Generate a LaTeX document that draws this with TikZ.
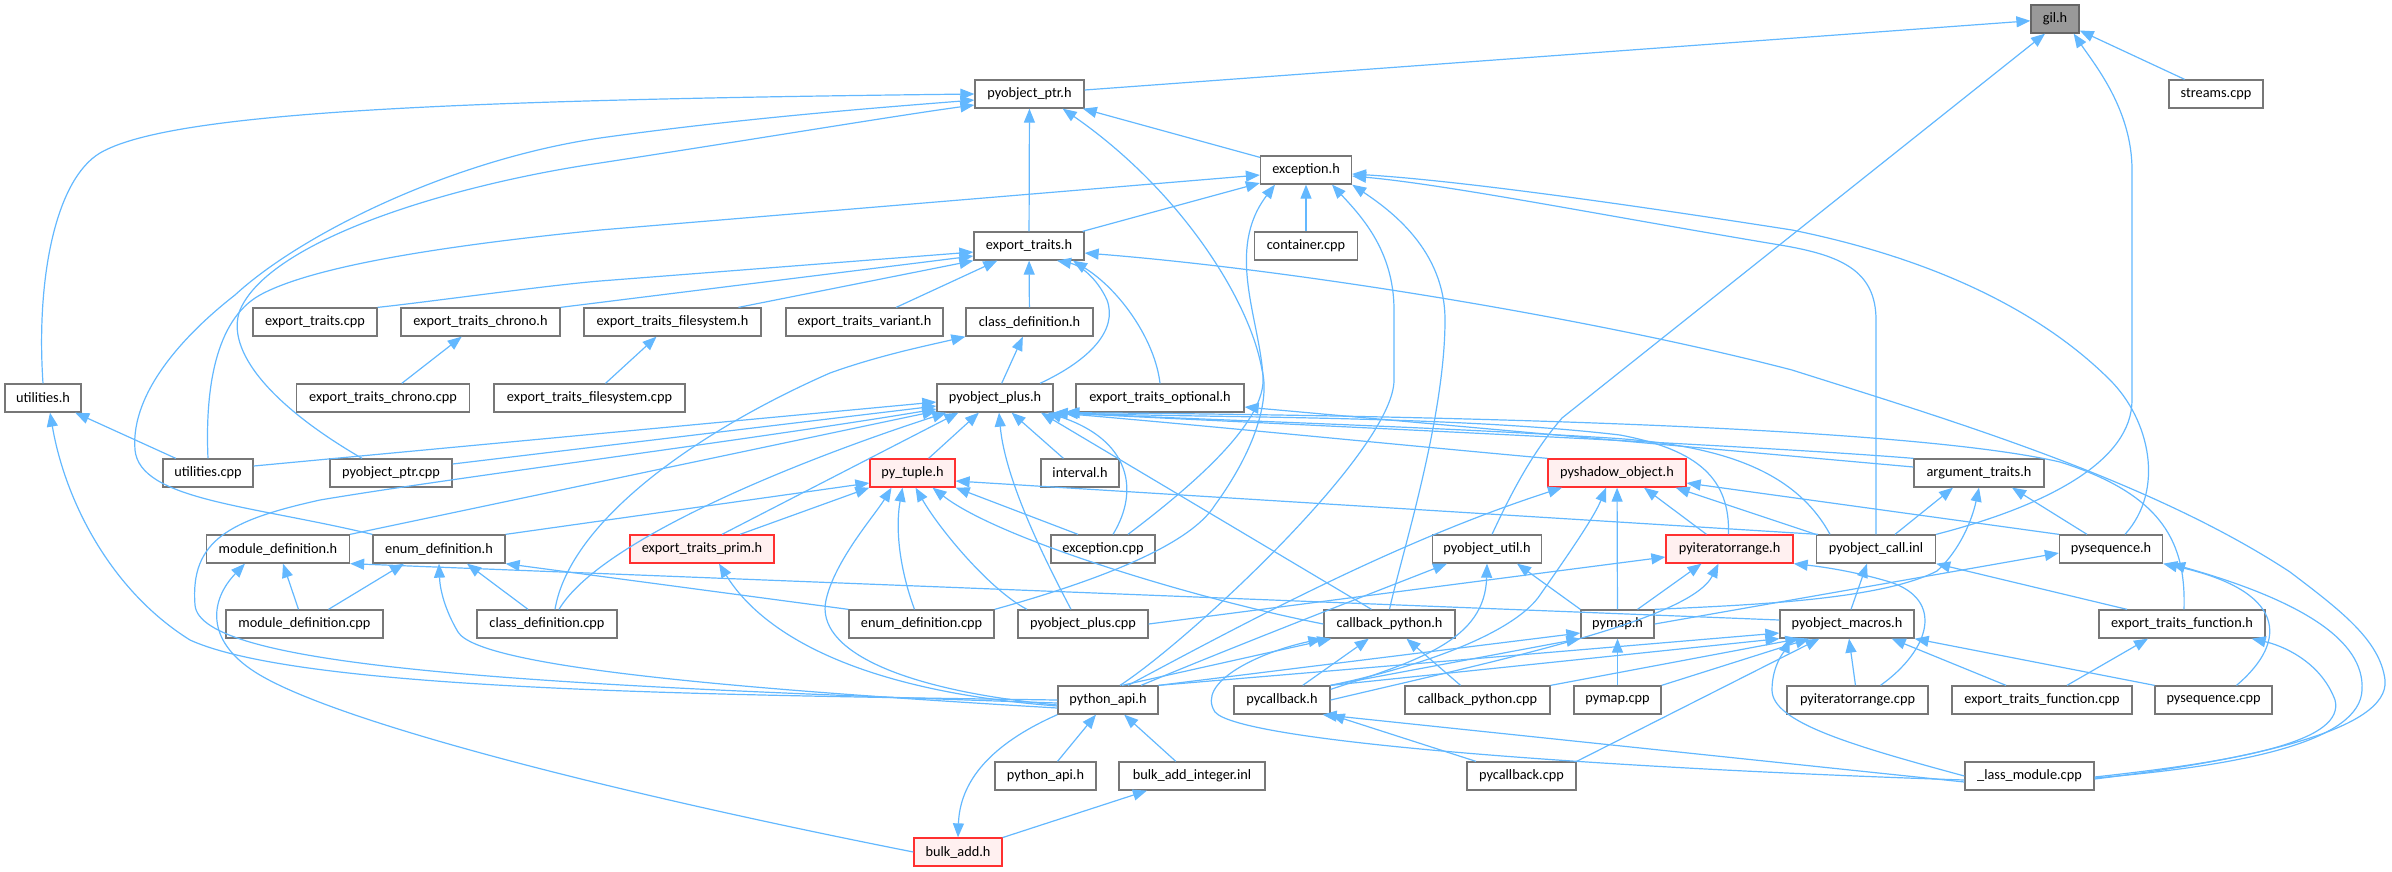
\documentclass[tikz,border=0pt]{standalone}
\usepackage{fontspec}
\setmainfont{Carlito}
\usetikzlibrary{arrows.meta}
\definecolor{edgeblue}{HTML}{63B8FF}
\definecolor{ndgray}{HTML}{777777}
\definecolor{ndred}{HTML}{FF3030}
\definecolor{ndpink}{HTML}{FFF0F0}
\definecolor{gilfill}{HTML}{999999}
\definecolor{gildraw}{HTML}{666666}
\begin{document}
\begin{tikzpicture}[x=1pt,y=-1pt,
  nd/.style={draw=ndgray, fill=white, line width=1.3pt, minimum height=28pt, inner sep=0pt, font=\fontsize{14.3}{16}\selectfont},
  rednd/.style={nd, draw=ndred, fill=ndpink},
  edge/.style={draw=edgeblue, line width=1.2pt, -{Triangle[length=14pt,width=11pt]}}]
\useasboundingbox (0,0) rectangle (2392,871);
% nodes
\node[nd, fill=gilfill, draw=gildraw, minimum width=48pt] (gil) at (2055,19) {gil.h};
\node[nd, minimum width=109pt] (ptr) at (1029.5,94) {pyobject\_ptr.h};
\node[nd, minimum width=94pt] (streams) at (2216,94) {streams.cpp};
\node[nd, minimum width=91pt] (exc) at (1306,170) {exception.h};
\node[nd, minimum width=110pt] (et) at (1029,246) {export\_traits.h};
\node[nd, minimum width=103pt] (container) at (1306,246) {container.cpp};
\node[nd, minimum width=124pt] (etcpp) at (315,322) {export\_traits.cpp};
\node[nd, minimum width=159pt] (etchrono) at (480.5,322) {export\_traits\_chrono.h};
\node[nd, minimum width=177pt] (etfs) at (672.5,322) {export\_traits\_filesystem.h};
\node[nd, minimum width=157pt] (etvar) at (864.5,322) {export\_traits\_variant.h};
\node[nd, minimum width=127pt] (classdef) at (1029.5,322) {class\_definition.h};
\node[nd, minimum width=76pt] (utilh) at (43,398) {utilities.h};
\node[nd, minimum width=173pt] (etchronocpp) at (383,398) {export\_traits\_chrono.cpp};
\node[nd, minimum width=191pt] (etfscpp) at (589.5,398) {export\_traits\_filesystem.cpp};
\node[nd, minimum width=116pt] (plus) at (995,398) {pyobject\_plus.h};
\node[nd, minimum width=168pt] (etopt) at (1160,398) {export\_traits\_optional.h};
\node[nd, minimum width=90pt] (utilcpp) at (208,473) {utilities.cpp};
\node[nd, minimum width=122pt] (ptrcpp) at (391,473) {pyobject\_ptr.cpp};
\node[rednd, minimum width=85pt] (tuple) at (912.5,473) {py\_tuple.h};
\node[nd, minimum width=78pt] (interval) at (1080,473) {interval.h};
\node[rednd, minimum width=138pt] (shadow) at (1617,473) {pyshadow\_object.h};
\node[nd, minimum width=130pt] (argtr) at (1979,473) {argument\_traits.h};
\node[nd, minimum width=143pt] (moddefh) at (278,549) {module\_definition.h};
\node[nd, minimum width=132pt] (enumdefh) at (439,549) {enum\_definition.h};
\node[rednd, minimum width=144pt] (prim) at (702,549) {export\_traits\_prim.h};
\node[nd, minimum width=104pt] (exccpp) at (1103,549) {exception.cpp};
\node[nd, minimum width=109pt] (util) at (1487,549) {pyobject\_util.h};
\node[rednd, minimum width=127pt] (iterh) at (1729.5,549) {pyiteratorrange.h};
\node[nd, minimum width=119pt] (call) at (1876,549) {pyobject\_call.inl};
\node[nd, minimum width=103pt] (seqh) at (2111,549) {pysequence.h};
\node[nd, minimum width=157pt] (moddefcpp) at (304.5,624) {module\_definition.cpp};
\node[nd, minimum width=140pt] (classdefcpp) at (547,624) {class\_definition.cpp};
\node[nd, minimum width=145pt] (enumdefcpp) at (921.5,624) {enum\_definition.cpp};
\node[nd, minimum width=130pt] (pluscpp) at (1083,624) {pyobject\_plus.cpp};
\node[nd, minimum width=131pt] (cbpyh) at (1389.5,624) {callback\_python.h};
\node[nd, minimum width=73pt] (pymaph) at (1617.5,624) {pymap.h};
\node[nd, minimum width=134pt] (macros) at (1847,624) {pyobject\_macros.h};
\node[nd, minimum width=166pt] (etfunc) at (2182,624) {export\_traits\_function.h};
\node[nd, minimum width=100pt] (api) at (1108,700) {python\_api.h};
\node[nd, minimum width=96pt] (pycbh) at (1282,700) {pycallback.h};
\node[nd, minimum width=145pt] (cbpycpp) at (1477.5,700) {callback\_python.cpp};
\node[nd, minimum width=87pt] (pymapcpp) at (1617.5,700) {pymap.cpp};
\node[nd, minimum width=141pt] (itercpp) at (1857.5,700) {pyiteratorrange.cpp};
\node[nd, minimum width=180pt] (etfunccpp) at (2042,700) {export\_traits\_function.cpp};
\node[nd, minimum width=117pt] (seqcpp) at (2213.5,700) {pysequence.cpp};
\node[nd, minimum width=101pt] (api2) at (1045.5,776) {python\_api.h};
\node[nd, minimum width=146pt] (bulkint) at (1192,776) {bulk\_add\_integer.inl};
\node[nd, minimum width=109pt] (pycbcpp) at (1521.5,776) {pycallback.cpp};
\node[nd, minimum width=129pt] (lass) at (2029.5,776) {\_lass\_module.cpp};
\node[rednd, minimum width=88pt] (bulk) at (958,852) {bulk\_add.h};
% edges to gil.h
\draw[edge] (ptr) -- (gil);
\draw[edge] ([xshift=5pt]util.north) .. controls (1508,500) and (1530,455) .. (1562,418) -- ([xshift=-10pt]gil.south);
\draw[edge] (call.north east) .. controls (2050,505) and (2132,460) .. (2132,400) -- (2132,170) .. controls (2132,110) and (2095,65) .. ([xshift=-6pt]gil.south east);
\draw[edge] (streams) -- (gil);
% edges to pyobject_ptr.h
\draw[edge] (et) -- (ptr);
\draw[edge] (utilh.north) .. controls (36,280) and (55,180) .. (100,153) .. controls (170,112) and (450,100) .. (ptr.west);
\draw[edge] (enumdefh.north west) .. controls (250,505) and (140,500) .. (135,450) .. controls (130,390) and (190,330) .. (235,295) .. controls (300,235) and (450,160) .. (600,138) .. controls (750,117) and (900,106) .. ([yshift=-6pt]ptr.west);
\draw[edge] ([xshift=-29pt]ptrcpp.north) .. controls (270,405) and (225,350) .. (240,310) .. controls (270,240) and (450,185) .. (600,163) .. controls (750,140) and (900,115) .. ([yshift=-11pt]ptr.west);
\draw[edge] (exc) -- (ptr);
\draw[edge] (enumdefcpp.north east) .. controls (1100,580) and (1190,545) .. (1215,505) .. controls (1255,450) and (1270,400) .. (1262,370) .. controls (1250,300) and (1180,190) .. ([xshift=-22pt]ptr.south east);
% edges to exception.h
\draw[edge] (utilcpp.north) .. controls (205,390) and (215,320) .. (260,295) .. controls (320,262) and (480,242) .. (600,230) -- ([yshift=-5pt]exc.west);
\draw[edge] (et) -- ([yshift=-13pt]exc.west);
\draw[edge] ([xshift=25pt]exccpp.north) .. controls (1200,480) and (1266,420) .. (1263,377) .. controls (1260,320) and (1225,250) .. ([xshift=-31pt]exc.south);
\draw[edge] (container) -- (exc);
\draw[edge] ([xshift=12pt]api.north) .. controls (1190,640) and (1394,450) .. (1394,380) -- (1394,310) .. controls (1394,250) and (1360,215) .. ([xshift=26pt]exc.south);
\draw[edge] (cbpyh.north) .. controls (1400,560) and (1445,420) .. (1445,320) .. controls (1445,250) and (1390,210) .. (exc.south east);
\draw[edge] (call.north) -- (1876,320) .. controls (1876,270) and (1840,255) .. (1780,245) .. controls (1600,215) and (1450,185) .. ([yshift=-6pt]exc.east);
\draw[edge] ([xshift=14pt]seqh.north) .. controls (2165,490) and (2150,420) .. (2110,380) .. controls (2050,320) and (1950,262) .. (1792,230) .. controls (1600,200) and (1450,180) .. ([yshift=-4pt]exc.east);
% edges to export_traits.h
\draw[edge] (etcpp.north east) .. controls (420,303) and (550,285) .. (600,281) -- ([yshift=-6pt]et.west);
\draw[edge] (etchrono.north east) -- ([yshift=-10pt]et.west);
\draw[edge] ([xshift=66pt]etfs.north) -- (et.south west);
\draw[edge] (etvar) -- (et);
\draw[edge] (classdef) -- (et);
\draw[edge] ([xshift=45pt]plus.north) .. controls (1090,360) and (1118,330) .. (1107,300) .. controls (1097,278) and (1080,265) .. ([xshift=28pt]et.south);
\draw[edge] (etopt.north) .. controls (1155,340) and (1120,290) .. ([xshift=44pt]et.south);
\draw[edge] ([yshift=-3pt]lass.east) .. controls (2250,760) and (2390,730) .. (2385,680) .. controls (2380,640) and (2340,610) .. (2290,572) .. controls (2150,480) and (1950,420) .. (1792,370) .. controls (1600,320) and (1300,270) .. ([yshift=-7pt]et.east);
% export_traits sub-files
\draw[edge] (etchronocpp) -- (etchrono);
\draw[edge] (etfscpp) -- (etfs);
% class_definition.h
\draw[edge] (plus) -- (classdef);
\draw[edge] ([xshift=8pt]classdefcpp.north) .. controls (570,520) and (700,430) .. (830,373) .. controls (880,355) and (930,345) .. (classdef.south west);
% utilities.h
\draw[edge] (utilcpp) -- (utilh);
\draw[edge] (api.west) .. controls (700,695) and (300,690) .. (190,640) .. controls (110,590) and (65,500) .. ([xshift=7pt]utilh.south);
% pyobject_plus.h
\draw[edge] ([yshift=7pt]utilcpp.east) -- ([yshift=-4pt]plus.west);
\draw[edge] ([yshift=9pt]ptrcpp.east) -- ([yshift=-8pt]plus.west);
\draw[edge] ([yshift=-3pt]api.west) .. controls (500,685) and (200,665) .. (195,605) .. controls (190,540) and (230,520) .. (320,500) .. controls (450,478) and (750,440) .. ([yshift=-11pt]plus.west);
\draw[edge] (moddefh.north east) -- ([yshift=-13pt]plus.west);
\draw[edge] ([xshift=12pt]classdefcpp.north) .. controls (600,540) and (800,460) .. ([xshift=10pt]plus.south west);
\draw[edge] ([xshift=20pt]prim.north) -- ([xshift=22pt]plus.south west);
\draw[edge] (tuple) -- (plus);
\draw[edge] ([xshift=-12pt]pluscpp.north) .. controls (1045,560) and (1005,480) .. ([xshift=4pt]plus.south);
\draw[edge] (interval) -- (plus);
\draw[edge] ([xshift=-18pt]cbpyh.north) -- ([xshift=46pt]plus.south);
\draw[edge] ([xshift=10pt]exccpp.north) .. controls (1140,490) and (1130,440) .. ([xshift=-6pt]plus.south east);
\draw[edge] (argtr.north west) .. controls (1750,445) and (1300,425) .. (plus.south east);
\draw[edge] (shadow.north west) .. controls (1400,445) and (1200,425) .. (plus.south east);
\draw[edge] ([xshift=-1pt]iterh.north) .. controls (1730,480) and (1700,450) .. (1620,435) .. controls (1450,415) and (1200,418) .. ([xshift=10pt]plus.south east);
\draw[edge] ([xshift=-46pt]call.north) .. controls (1795,470) and (1720,445) .. (1610,438) .. controls (1400,425) and (1200,420) .. ([xshift=10pt]plus.south east);
\draw[edge] ([xshift=2pt]etfunc.north) .. controls (2186,545) and (2165,495) .. (2060,462) .. controls (1900,425) and (1400,415) .. ([xshift=12pt]plus.south east);
% export_traits_optional.h
\draw[edge] ([yshift=6pt]argtr.west) -- ([yshift=-9pt]etopt.east);
% py_tuple.h
\draw[edge] (enumdefh.north east) -- ([yshift=-10pt]tuple.west);
\draw[edge] ([xshift=38pt]prim.north) -- (tuple.south west);
\draw[edge] ([yshift=-5pt]api.west) .. controls (900,690) and (815,650) .. (826,600) .. controls (835,560) and (875,515) .. ([xshift=-21pt]tuple.south);
\draw[edge] ([xshift=-7pt]enumdefcpp.north) .. controls (900,570) and (895,530) .. ([xshift=-10pt]tuple.south);
\draw[edge] ([xshift=-56pt]pluscpp.north) .. controls (990,590) and (940,530) .. ([xshift=3pt]tuple.south);
\draw[edge] (cbpyh.west) .. controls (1200,600) and (1000,540) .. ([xshift=20pt]tuple.south);
\draw[edge] ([xshift=-25pt]exccpp.north) -- (tuple.south east);
\draw[edge] ([xshift=2pt]call.north west) -- ([yshift=-8pt]tuple.east);
% export_traits_prim.h
\draw[edge] ([yshift=-6pt]api.west) .. controls (850,690) and (760,630) .. ([xshift=17pt]prim.south);
% pyshadow_object.h
\draw[edge] ([xshift=20pt]api.north) .. controls (1250,620) and (1400,540) .. ([xshift=-55pt]shadow.south);
\draw[edge] (pycbh.north east) .. controls (1450,660) and (1520,625) .. (1540,595) .. controls (1575,545) and (1595,515) .. ([xshift=-11pt]shadow.south);
\draw[edge] (pymaph) -- (shadow);
\draw[edge] ([xshift=-23pt]iterh.north) -- ([xshift=27pt]shadow.south);
\draw[edge] (call.north west) -- ([xshift=-11pt]shadow.south east);
\draw[edge] (seqh.north west) -- ([yshift=-10pt]shadow.east);
% pyobject_util.h
\draw[edge] ([xshift=33pt]api.north) .. controls (1250,640) and (1380,590) .. ([xshift=-40pt]util.south);
\draw[edge] ([yshift=-4pt]pycbh.north east) .. controls (1420,660) and (1485,640) .. (util.south);
\draw[edge] (pymaph.north west) -- ([xshift=30pt]util.south);
% pyiteratorrange.h
\draw[edge] (pluscpp.east) -- ([yshift=-8pt]iterh.west);
\draw[edge] ([xshift=20pt]pymaph.north) -- ([xshift=-28pt]iterh.south);
\draw[edge] (pycbh.east) .. controls (1500,660) and (1690,620) .. ([xshift=-11pt]iterh.south);
\draw[edge] ([xshift=23pt]itercpp.north) .. controls (1930,650) and (1945,600) .. (1890,582) .. controls (1850,570) and (1815,566) .. (iterh.south east);
% argument_traits.h
\draw[edge] ([xshift=19pt]call.north) -- ([xshift=-26pt]argtr.south);
\draw[edge] (pymaph.north east) .. controls (1750,605) and (1880,600) .. (1937,571) .. controls (1960,550) and (1972,520) .. (argtr.south);
\draw[edge] ([xshift=-24pt]seqh.north) -- ([xshift=33pt]argtr.south);
% pyobject_call.inl
\draw[edge] ([xshift=4pt]macros.north) -- ([xshift=-9pt]call.south);
\draw[edge] ([xshift=-55pt]etfunc.north) -- (call.south east);
% pysequence.h
\draw[edge] (pymaph.east) -- ([yshift=-4pt]seqh.west);
\draw[edge] ([xshift=23pt]seqcpp.north) .. controls (2290,640) and (2285,590) .. (seqh.south east);
\draw[edge] ([yshift=-2pt]lass.east) .. controls (2250,765) and (2360,740) .. (2362,690) .. controls (2365,640) and (2300,600) .. ([xshift=8pt]seqh.south east);
% export_traits_function.h
\draw[edge] ([xshift=25pt]etfunccpp.north) -- ([xshift=-34pt]etfunc.south);
\draw[edge] ([yshift=-1pt]lass.east) .. controls (2250,760) and (2345,740) .. (2335,700) .. controls (2320,660) and (2280,645) .. ([xshift=-14pt]etfunc.south east);
% pyobject_macros.h
\draw[edge] (api.north east) -- ([yshift=-9pt]macros.west);
\draw[edge] (pycbh.north east) -- (macros.south west);
\draw[edge] (cbpycpp.north east) -- ([xshift=20pt]macros.south west);
\draw[edge] (pymapcpp.north east) -- ([xshift=30pt]macros.south west);
\draw[edge] (pycbcpp.north east) -- ([xshift=40pt]macros.south west);
\draw[edge] (itercpp) -- (macros);
\draw[edge] ([xshift=-36pt]etfunccpp.north) -- ([xshift=-23pt]macros.south east);
\draw[edge] ([xshift=-59pt]seqcpp.north) -- (macros.south east);
\draw[edge] (lass.west) .. controls (1850,745) and (1772,722) .. (1772,690) .. controls (1772,665) and (1785,650) .. ([xshift=10pt]macros.south west);
% module/enum definition
\draw[edge] ([xshift=-6pt]moddefcpp.north) -- ([xshift=5pt]moddefh.south);
\draw[edge] ([xshift=24pt]moddefcpp.north) -- ([xshift=-35pt]enumdefh.south);
\draw[edge] ([xshift=-19pt]classdefcpp.north) -- ([xshift=28pt]enumdefh.south);
\draw[edge] ([yshift=-8pt]api.west) .. controls (750,690) and (480,668) .. (458,632) .. controls (445,610) and (440,590) .. (enumdefh.south);
\draw[edge] (enumdefcpp.north west) -- (enumdefh.south east);
\draw[edge] ([yshift=4pt]macros.west) -- (moddefh.south east);
\draw[edge] (bulk.west) .. controls (600,790) and (330,720) .. (255,672) .. controls (205,640) and (210,600) .. ([xshift=-33pt]moddefh.south);
% bulk_add / python_api
\draw[edge] (api.south west) .. controls (1000,740) and (960,775) .. (bulk.north);
\draw[edge] (bulk) -- (bulkint);
\draw[edge] (bulkint) -- (api);
\draw[edge] (api2) -- (api);
% callback_python.h
\draw[edge] (cbpycpp) -- (cbpyh);
\draw[edge] (pycbh) -- (cbpyh);
\draw[edge] ([xshift=14pt]api.north) -- ([xshift=8pt]cbpyh.south west);
\draw[edge] ([yshift=-4pt]lass.west) .. controls (1600,768) and (1240,742) .. (1215,712) .. controls (1195,682) and (1260,652) .. ([xshift=-1pt]cbpyh.south west);
% pymap.h
\draw[edge] (api.north east) -- ([yshift=-9pt]pymaph.west);
\draw[edge] (pycbh.north east) -- (pymaph.south west);
\draw[edge] (pymapcpp) -- (pymaph);
% pycallback.h
\draw[edge] (pycbcpp) -- (pycbh.south east);
\draw[edge] ([yshift=-6pt]lass.west) -- ([xshift=-8pt]pycbh.south east);
\end{tikzpicture}
\end{document}
